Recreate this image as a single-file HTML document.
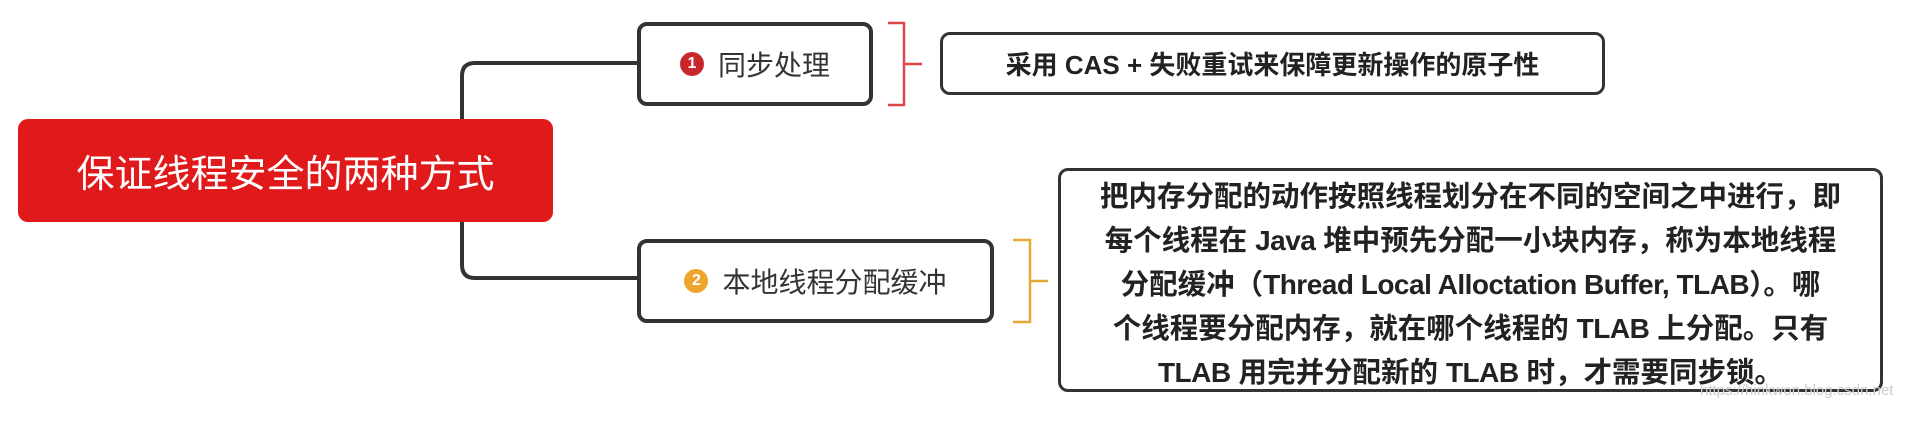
<!DOCTYPE html>
<html><head><meta charset="utf-8"><style>
body{margin:0;width:1906px;height:422px;background:#fff;position:relative;overflow:hidden;font-family:"Liberation Sans","Noto Sans CJK SC",sans-serif;}
.a{position:absolute;box-sizing:border-box;}
.box{border:4px solid #333;border-radius:10px;background:#fff;display:flex;align-items:center;justify-content:center;color:#333;}
.c{display:inline-block;width:24px;height:24px;border-radius:50%;color:#fff;font-size:16px;font-weight:bold;line-height:24px;text-align:center;margin-right:14px;}
.l{white-space:nowrap;}
.n{font-size:28px;letter-spacing:-0.5px;}
</style></head><body>
<svg class="a" style="left:0;top:0" width="1906" height="422">
<path d="M640 63 H475 Q462 63 462 76 V265 Q462 278 475 278 H640" fill="none" stroke="#333" stroke-width="4"/>
<path d="M888 23 H904 V105 H888 M904 64 H922" fill="none" stroke="#e0454a" stroke-width="2.5"/>
<path d="M1013 240 H1030 V322 H1013 M1030 281 H1048" fill="none" stroke="#e8a838" stroke-width="2.5"/>
</svg>
<div class="a" style="left:18px;top:119px;width:535px;height:103px;background:#e0191b;border-radius:10px;color:#fff;font-size:38px;display:flex;align-items:center;justify-content:center;">保证线程安全的两种方式</div>
<div class="a box" style="left:637px;top:22px;width:236px;height:84px;font-size:28px;"><span class="c" style="background:#c8282b">1</span>同步处理</div>
<div class="a box" style="left:637px;top:239px;width:357px;height:84px;font-size:28px;"><span class="c" style="background:#eea52c">2</span>本地线程分配缓冲</div>
<div class="a box" style="left:940px;top:32px;width:665px;height:63px;font-size:26px;font-weight:bold;color:#222;border-width:3px;">采用 CAS + 失败重试来保障更新操作的原子性</div>
<div class="a box" style="left:1058px;top:168px;width:825px;height:224px;font-size:28.5px;font-weight:bold;color:#222;border-width:3px;text-align:center;line-height:44px;flex-direction:column;padding-top:10px;">
<div class="l">把内存分配的动作按照线程划分在不同的空间之中进行，即</div>
<div class="l">每个线程在 <span class="n">Java</span> 堆中预先分配一小块内存，称为本地线程</div>
<div class="l">分配缓冲（<span class="n">Thread Local Alloctation Buffer, TLAB</span>）。哪</div>
<div class="l">个线程要分配内存，就在哪个线程的 <span class="n">TLAB</span> 上分配。只有</div>
<div class="l"><span class="n">TLAB</span> 用完并分配新的 <span class="n">TLAB</span> 时，才需要同步锁。</div>
</div>
<div class="a" style="left:1700px;top:382px;font-size:15px;color:#ccc;white-space:nowrap;">https://hinkwon.blog.csdn.net</div>
</body></html>
